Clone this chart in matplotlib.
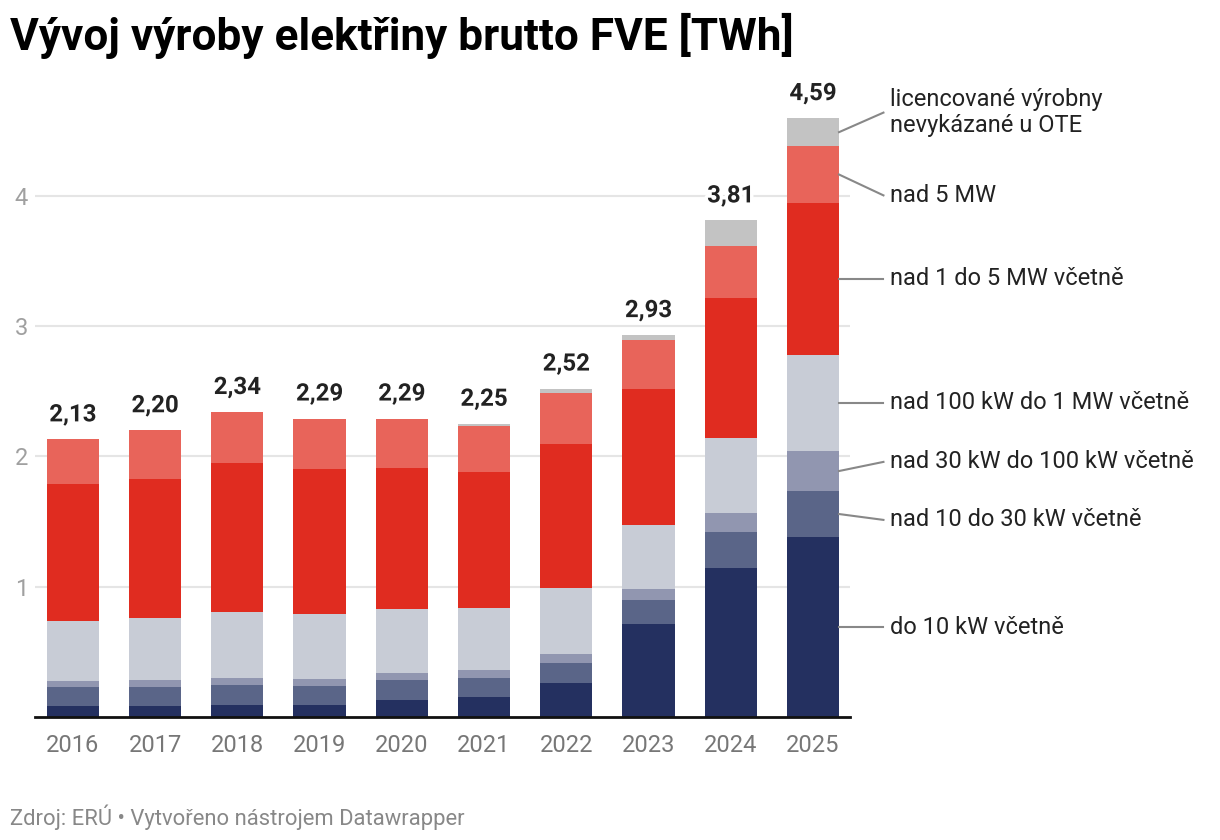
#!/usr/bin/env python3

import numpy as np
import matplotlib.pyplot as plt
import matplotlib.patheffects as pe

plt.rcParams['font.family'] = ['Roboto', 'DejaVu Sans']

# Data (TWh)
years = ["2016", "2017", "2018", "2019", "2020", "2021", "2022", "2023", "2024", "2025"]
do_10kw = [0.084, 0.084, 0.092, 0.092, 0.130, 0.156, 0.262, 0.715, 1.145, 1.380]
nad_10_30kw = [0.146, 0.146, 0.153, 0.146, 0.154, 0.144, 0.153, 0.183, 0.275, 0.355]
nad_30_100kw = [0.046, 0.054, 0.054, 0.053, 0.053, 0.060, 0.069, 0.084, 0.145, 0.305]
nad_100kw_1mw = [0.461, 0.476, 0.507, 0.499, 0.493, 0.480, 0.506, 0.493, 0.575, 0.740]
nad_1_5mw = [1.053, 1.070, 1.144, 1.110, 1.080, 1.040, 1.105, 1.045, 1.075, 1.165]
nad_5mw = [0.340, 0.370, 0.390, 0.390, 0.380, 0.355, 0.390, 0.375, 0.400, 0.435]
licencovane = [0.0, 0.0, 0.0, 0.0, 0.0, 0.015, 0.035, 0.035, 0.195, 0.215]
totals = [2.13, 2.20, 2.34, 2.29, 2.29, 2.25, 2.52, 2.93, 3.81, 4.59]

series = [do_10kw, nad_10_30kw, nad_30_100kw, nad_100kw_1mw, nad_1_5mw, nad_5mw, licencovane]
names = ["do 10 kW včetně", "nad 10 do 30 kW včetně", "nad 30 kW do 100 kW včetně",
         "nad 100 kW do 1 MW včetně", "nad 1 do 5 MW včetně", "nad 5 MW",
         "licencované výrobny\nnevykázané u OTE"]
colors = ["#243060", "#5a6588", "#9196b0", "#c8ccd6", "#e02c20", "#e8645a", "#c3c3c3"]
# vertical nudges of the right-hand labels so they don't collide
label_nudge = [0.0, -0.045, 0.07, 0.0, 0.0, -0.16, 0.15]

fig = plt.figure(figsize=(12.2, 8.4), dpi=100)
ax = fig.add_axes([0.0287, 0.1464, 0.668, 0.737])

x = np.arange(len(years))
width = 0.634
bottom = np.zeros(len(years))
for vals, col in zip(series, colors):
    ax.bar(x, vals, width, bottom=bottom, color=col, zorder=2, linewidth=0)
    bottom = bottom + np.array(vals)

# totals above bars
for i in range(len(years)):
    ax.text(x[i], bottom[i] + 0.1, ("%.2f" % totals[i]).replace(".", ","),
            ha="center", va="bottom", fontsize=17.3, fontweight="bold", color="#222222",
            zorder=4, path_effects=[pe.withStroke(linewidth=5, foreground="white")])

# labels on the right of the last bar
last = len(years) - 1
cum = 0.0
edge = x[last] + width / 2
for vals, name, nudge in zip(series, names, label_nudge):
    mid = cum + vals[last] / 2
    cum += vals[last]
    ly = mid + nudge
    ax.plot([edge, edge + 0.54], [mid, ly], color="#888888", lw=1.5, clip_on=False, zorder=3)
    ax.text(edge + 0.62, ly, name, ha="left", va="center", fontsize=17,
            color="#222222", linespacing=1.2, clip_on=False)

ax.set_xlim(-0.46, 9.45)
ax.set_ylim(0, 4.75)
ax.set_yticks([1, 2, 3, 4])
ax.set_yticklabels(["1", "2", "3", "4"])
ax.yaxis.grid(True, color="#e5e5e5", lw=1.5, zorder=0)
ax.set_axisbelow(True)
ax.set_xticks(x)
ax.set_xticklabels(years)
ax.tick_params(axis="x", length=0, labelsize=17, labelcolor="#777777", pad=12)
ax.tick_params(axis="y", length=0, labelsize=17, labelcolor="#a0a0a0", pad=0)
for lab in ax.get_yticklabels():
    lab.set_horizontalalignment("left")
    lab.set_x(-0.025)
for s in ["top", "right", "left"]:
    ax.spines[s].set_visible(False)
ax.spines["bottom"].set_color("#111111")
ax.spines["bottom"].set_linewidth(2)
ax.spines["bottom"].set_zorder(5)

fig.text(10 / 1220, 1 - 36 / 840, "Vývoj výroby elektřiny brutto FVE [TWh]",
         ha="left", va="center", fontsize=31.8, fontweight="bold", color="#000000")
fig.text(10 / 1220, 1 - 817 / 840, "Zdroj: ERÚ • Vytvořeno nástrojem Datawrapper",
         ha="left", va="center", fontsize=15.8, color="#888888")

fig.savefig("out.png", dpi=100)
plt.close(fig)
